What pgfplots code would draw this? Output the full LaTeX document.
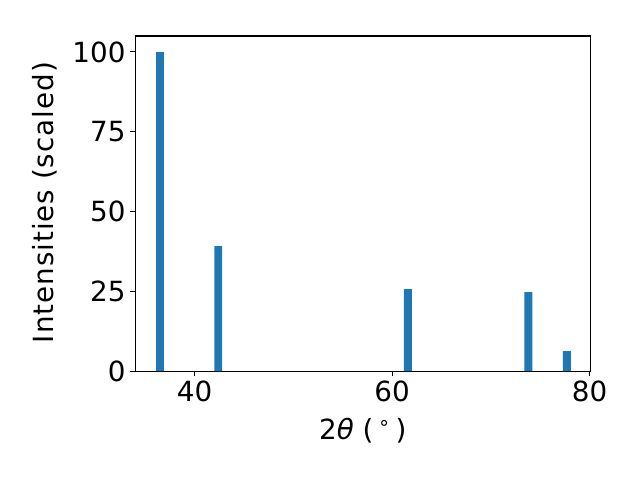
\documentclass[border=0pt]{standalone}
\usepackage{fontspec}
\setmainfont{DejaVu Sans}
\usepackage{pgfplots}
\pgfplotsset{compat=1.18}
\definecolor{mplblue}{HTML}{1F77B4}
\begin{document}
\begin{tikzpicture}
\useasboundingbox (0,0) rectangle (460.8pt,345.6pt);
\begin{axis}[
  at={(97.4pt,78.3pt)}, anchor=south west,
  scale only axis, width=327.6pt, height=241.4pt,
  xmin=34, xmax=80.07, ymin=0, ymax=105,
  xtick={40,60,80}, ytick={0,25,50,75,100},
  tick align=outside, major tick length=3.5pt,
  xtick pos=bottom, ytick pos=left,
  /pgf/number format/assume math mode=true,
  tick label style={font=\fontsize{20}{24}\selectfont},
  label style={font=\fontsize{20}{24}\selectfont},
  xlabel={2{\itshape θ} (\,\textsuperscript{∘}\,)},
  ylabel={\addfontfeature{LetterSpace=3.5}Intensities (scaled)},
  xlabel style={at={(axis description cs:0.5,-0.2047)}, anchor=base},
  ylabel style={at={(axis description cs:-0.1996,0.503)}, anchor=center},
  axis line style={line width=0.8pt},
  tick style={line width=0.8pt, black},
  ybar, bar width=0.8, bar shift=0pt,
]
\addplot[fill=mplblue, draw=none] coordinates {
  (36.5,100) (42.4,39.2) (61.6,25.7) (73.8,24.8) (77.7,6.3)
};
\end{axis}
\end{tikzpicture}
\end{document}
